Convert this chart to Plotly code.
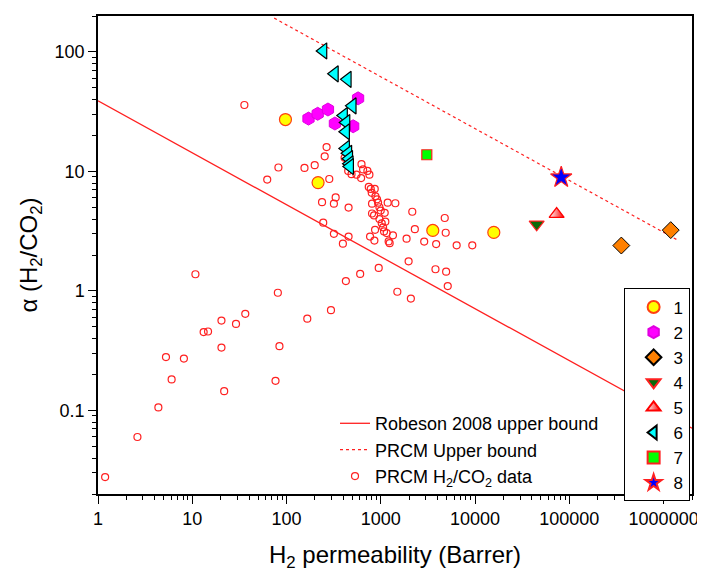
import plotly.graph_objects as go

# ---------------- data ----------------
robeson_x = [1, 2000000]
robeson_y = [39.0, 0.071]

prcm_ub_x = [74, 1430000]
prcm_ub_y = [192, 2.65]

prcm_x = [1.19, 2.62, 4.37, 5.26, 6.04, 8.15, 10.8, 13.2, 14.7, 20.4, 20.4, 21.8, 29.1, 36.5,
          80.9, 76.4, 84.1, 166,
          266, 254, 199, 155, 82, 62.4, 284, 413, 624, 649, 721, 757, 552, 618, 489, 451,
          745, 782, 862, 801, 877, 912, 935, 807, 967, 998, 1100, 807, 848, 967, 1117, 1023,
          1057, 1082, 1154, 1345, 1211, 1241, 1183, 1426, 869, 769, 855, 2157, 2296, 1876,
          2886, 3863, 4766, 4880, 6376, 238, 318, 332, 455, 245, 318, 455, 396, 950, 604, 426,
          1972, 3800, 4930, 5130, 1497, 2084, 296, 35.7, 9340]
prcm_y = [0.0277, 0.060, 0.106, 0.280, 0.182, 0.272, 1.38, 0.453, 0.458, 0.565, 0.336, 0.145, 0.530, 0.644,
          0.966, 0.177, 0.345, 0.586,
          16.0, 13.4, 11.3, 10.7, 10.8, 8.55, 8.65, 13.0, 11.5, 10.4, 10.1, 9.4, 9.4, 8.8, 9.5, 10.1,
          7.43, 7.15, 7.15, 6.63, 6.19, 5.85, 5.48, 5.38, 5.02, 4.71, 4.51, 4.45, 4.29, 4.0, 3.80, 3.68,
          3.41, 3.15, 3.05, 2.92, 2.60, 2.51, 5.48, 5.42, 3.25, 2.85, 2.64, 4.60, 3.29, 2.74,
          2.59, 2.47, 4.08, 3.07, 2.41, 5.53, 5.38, 6.07, 4.99, 3.73, 3.01, 2.85, 2.49, 1.56, 1.39, 1.21,
          1.77, 1.52, 1.45, 1.10, 0.985, 0.863, 0.691, 36.0, 2.41]

s1_x = [97.4, 216, 3560, 15800]
s1_y = [27.2, 8.07, 3.21, 3.09]

s2_x = [171, 214, 275, 574, 326, 509]
s2_y = [27.7, 30.4, 33.0, 40.9, 25.2, 23.9]

s3_x = [356000, 1190000]
s3_y = [2.40, 3.23]

s4_x = [45000]
s4_y = [3.61]

s5_x = [73300]
s5_y = [4.40]

s6_x = [245, 324, 444, 501, 405, 430, 426, 426, 450, 460, 466, 470]
s6_y = [102, 65.6, 59.0, 35.4, 29.4, 25.7, 21.5, 15.6, 14.2, 12.8, 11.6, 11.0]

s7_x = [3076]
s7_y = [13.8]

s8_x = [82000]
s8_y = [8.93]

x_tickvals = [1, 10, 100, 1000, 10000, 100000, 1000000]
x_ticktext = ["1", "10", "100", "1000", "10000", "100000", "1000000"]
y_tickvals = [0.1, 1, 10, 100]
y_ticktext = ["0.1", "1", "10", "100"]

# ---------------- figure ----------------
FONT = "Liberation Sans, Arial, sans-serif"
fig = go.Figure()

fig.add_trace(go.Scatter(x=robeson_x, y=robeson_y, mode="lines",
                         line=dict(color="#FF2020", width=1.3),
                         name="Robeson 2008 upper bound", legend="legend2"))
fig.add_trace(go.Scatter(x=prcm_ub_x, y=prcm_ub_y, mode="lines",
                         line=dict(color="#FF2020", width=1.2, dash="3px,3px"),
                         name="PRCM Upper bound", legend="legend2"))
fig.add_trace(go.Scatter(x=prcm_x, y=prcm_y, mode="markers",
                         marker=dict(symbol="circle-open", size=7, color="#FF2020",
                                     line=dict(width=1.2)),
                         name="PRCM H<sub>2</sub>/CO<sub>2</sub> data", legend="legend2"))

fig.add_trace(go.Scatter(x=s1_x, y=s1_y, mode="markers", name="1",
                         marker=dict(symbol="circle", size=12, color="#FFFF00",
                                     line=dict(color="#FF4010", width=1.2))))
fig.add_trace(go.Scatter(x=s2_x, y=s2_y, mode="markers", name="2",
                         marker=dict(symbol="hexagon", size=13, color="#FF00FF",
                                     line=dict(color="#E000E0", width=1))))
fig.add_trace(go.Scatter(x=s3_x, y=s3_y, mode="markers", name="3",
                         marker=dict(symbol="diamond", size=13, color="#FF8000",
                                     line=dict(color="#000000", width=1))))
fig.add_trace(go.Scatter(x=s4_x, y=s4_y, mode="markers", name="4",
                         marker=dict(symbol="triangle-down", size=13, color="#0A6A0A",
                                     line=dict(color="#FF2020", width=1.2))))
fig.add_trace(go.Scatter(x=s5_x, y=s5_y, mode="markers", name="5",
                         marker=dict(symbol="triangle-up", size=13, color="#FFFFFF",
                                     gradient=dict(type="horizontal", color="#FF0000"),
                                     line=dict(color="#FF0000", width=1.3))))
fig.add_trace(go.Scatter(x=s6_x, y=s6_y, mode="markers", name="6",
                         marker=dict(symbol="triangle-left", size=14, color="#00FFFF",
                                     line=dict(color="#000000", width=1.2))))
fig.add_trace(go.Scatter(x=s7_x, y=s7_y, mode="markers", name="7",
                         marker=dict(symbol="square", size=10, color="#00FF00",
                                     line=dict(color="#FF2020", width=1.2))))
fig.add_trace(go.Scatter(x=s8_x, y=s8_y, mode="markers", name="8",
                         marker=dict(symbol="star", size=16, color="#0000FF",
                                     line=dict(color="#FF2020", width=1.2))))

x_minor = [k * 10 ** n for n in range(0, 7) for k in range(2, 10) if k * 10 ** n <= 2000000]
y_minor = [k * 10 ** n for n in range(-2, 3) for k in range(2, 10) if 0.02 <= k * 10 ** n <= 200]

fig.update_xaxes(type="log", range=[0, 6.30103],
                 tickvals=x_tickvals, ticktext=x_ticktext,
                 ticks="outside", ticklen=8, tickwidth=1.3, tickcolor="black",
                 minor=dict(tickvals=x_minor, ticks="outside", ticklen=4, tickwidth=1,
                            tickcolor="black", showgrid=False),
                 showline=True, linecolor="black", linewidth=1.5, mirror=True,
                 showgrid=False, zeroline=False,
                 tickfont=dict(size=18, family=FONT, color="black"),
                 title=dict(text="H<sub>2</sub> permeability (Barrer)",
                            font=dict(size=24, family=FONT, color="black"), standoff=20))
fig.update_yaxes(type="log", range=[-1.69897, 2.30103],
                 tickvals=y_tickvals, ticktext=y_ticktext,
                 ticks="outside", ticklen=8, tickwidth=1.3, tickcolor="black",
                 minor=dict(tickvals=y_minor, ticks="outside", ticklen=4, tickwidth=1,
                            tickcolor="black", showgrid=False),
                 showline=True, linecolor="black", linewidth=1.5, mirror=True,
                 showgrid=False, zeroline=False,
                 tickfont=dict(size=18, family=FONT, color="black"),
                 title=dict(text="α (H<sub>2</sub>/CO<sub>2</sub>)",
                            font=dict(size=24, family=FONT, color="black"), standoff=10))

# the page body adds an 8px offset, so the figure is 8px smaller than the window
fig.update_layout(
    width=697, height=564,
    margin=dict(l=90, r=13, t=6, b=77),
    paper_bgcolor="white", plot_bgcolor="white",
    font=dict(family=FONT, color="black"),
    showlegend=True,
    legend=dict(x=0.996, xanchor="right", y=0.43, yanchor="top",
                bgcolor="white", bordercolor="black", borderwidth=1,
                font=dict(size=17, family=FONT, color="black"),
                itemsizing="constant", tracegroupgap=0, indentation=9),
    legend2=dict(x=0.399, xanchor="left", y=0.186, yanchor="top",
                 bgcolor="rgba(0,0,0,0)", borderwidth=0,
                 font=dict(size=18, family=FONT, color="black"),
                 itemsizing="trace"),
)

fig.write_html("out.html")
